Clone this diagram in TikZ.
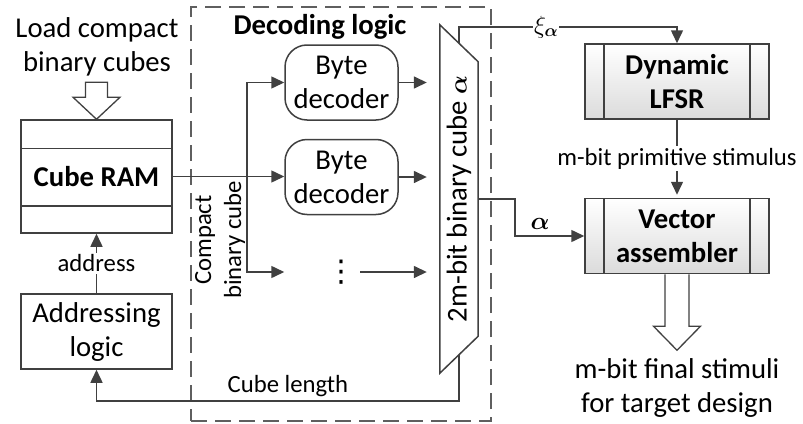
\documentclass[tikz,border=0pt]{standalone}
\usepackage{amsmath}
\usepackage{fontspec}
\setmainfont{Carlito}
\newfontfamily\symfont{DejaVu Sans}
\usepackage{tikz}
\usetikzlibrary{positioning, arrows.meta, calc}
\definecolor{lineGray}{RGB}{64, 64, 64}
\definecolor{dashGray}{RGB}{95, 95, 95}
\newcommand{\diagLarge}{\fontsize{28.7}{34}\selectfont}
\newcommand{\diagSmall}{\fontsize{24.7}{30}\selectfont}

\begin{document}
\begin{tikzpicture}[
                x=1pt, y=-1pt,
                bigtext/.style={font=\diagLarge, align=center, inner sep=0pt},
                smalltext/.style={font=\diagSmall, align=center},
                block/.style={rectangle, draw=lineGray, line width=1.5pt, minimum width=151, minimum height=75, font=\diagLarge, align=center, inner sep=0pt},
                decoder/.style={block, minimum width=113, rounded corners=22pt},
                procbox/.style={block, minimum width=184, top color=white, bottom color=black!14, font=\diagLarge\bfseries,
                  path picture={
                    \draw[lineGray, line width=1.5pt]
                      ([xshift=19pt]path picture bounding box.north west) -- ([xshift=19pt]path picture bounding box.south west)
                      ([xshift=-19pt]path picture bounding box.north east) -- ([xshift=-19pt]path picture bounding box.south east);
                  }},
                dashbox/.style={rectangle, draw=dashGray, line width=1.5pt, dash pattern=on 16pt off 8pt},
                hollow/.style={draw=lineGray, fill=white, line width=1.3pt, line join=miter},
                arrow/.style={-{Triangle[length=13pt, width=12pt]}, draw=lineGray, line width=1.5pt}
            ]
                \useasboundingbox (0,0) rectangle (803,423);

                % --- DECODING LOGIC (MIDDLE) ---
                \node[dashbox, minimum width=300, minimum height=414] (dec_box) at (341,214) {};
                \node[bigtext, font=\diagLarge\bfseries] (dec_title) at (320,27) {Decoding logic};
                \node[decoder] (dec1) at (341.5,82.5) {Byte\\decoder};
                \node[decoder, below=18pt of dec1] (dec2) {Byte\\decoder};
                \node[minimum width=37, inner sep=0pt, font=\symfont\fontsize{30}{30}\selectfont] (dots) at (341.5,272) {⋮};
                \node[smalltext, rotate=90, inner sep=0pt] (cmp_txt) at (220,240) {Compact\\binary cube};

                % Multiplexer
                \node[minimum width=38, minimum height=348, inner sep=0pt] (mux) at (459,199) {};
                \draw[draw=lineGray, line width=1.5pt, line join=miter] (mux.north west) -- ($(mux.north east)+(0,37)$)
                  -- ($(mux.south east)+(0,-37)$) -- (mux.south west) -- cycle;
                \node[bigtext, rotate=90] (mux_txt) at (mux.center) {2m-bit binary cube $\boldsymbol{\alpha}$};

                % --- CUBE RAM (LEFT) ---
                \node[bigtext] (load_txt) at (97,47) {Load compact\\binary cubes};
                \node[block, minimum height=113, font=\diagLarge\bfseries] (ram) at (96.5,176.5) {Cube RAM};
                \draw[lineGray, line width=1.5pt] ($(ram.north west)+(0,29)$) -- ($(ram.north east)+(0,29)$);
                \draw[lineGray, line width=1.5pt] ($(ram.south west)+(0,-28)$) -- ($(ram.south east)+(0,-28)$);
                \node[block] (addr) at (96.5,331.5) {Addressing\\logic};
                \draw[hollow] (ram.north) -- ++(-23.5,-22) -- ++(12.5,0) -- ++(0,-15) -- ++(22,0) -- ++(0,15) -- ++(12.5,0) -- cycle;

                % --- LFSR AND ASSEMBLER (RIGHT) ---
                \node[procbox] (lfsr) at (677,81.5) {Dynamic\\LFSR};
                \node[procbox, below=78pt of lfsr] (vec) {Vector\\assembler};
                \node[bigtext] (out_txt) at (677,388) {m-bit final stimuli\\for target design};
                \draw[hollow] ($(vec.south)+(-12,0)$) -- ++(0,52) -- ++(-11.5,0) -- ++(23.5,24) -- ++(23.5,-24) -- ++(-11.5,0) -- ++(0,-52);

                % Arrows
                \coordinate (br) at (247,176.5);
                \draw[arrow] (ram.east) -- (ram.east -| dec2.west);
                \draw[arrow] (br) |- (dec1.west);
                \draw[arrow] (br) |- (dots -| dec2.west);
                \draw[arrow, shorten >=13pt] (dec1.east) -- (dec1.east -| mux.west);
                \draw[arrow, shorten >=13pt] (dec2.east) -- (dec2.east -| mux.west);
                \draw[arrow, shorten >=13pt] (dots.east) -- (dots.east -| mux.west);
                \draw[arrow] ($(mux.north)+(0,18.5)$) -- ++(0,-16.5) -| node[pos=0.2, fill=white, inner sep=1pt, font=\diagSmall] (xi_lbl) {$\xi_{\boldsymbol{\alpha}}$} (lfsr.north);
                \draw[arrow, shorten >=3pt] (lfsr) -- node[smalltext, fill=white, inner sep=2pt] (stim_lbl) {m-bit primitive stimulus} (vec);
                \draw[arrow] (mux.east) -- ++(37,0) |- node[pos=0.68, above=2pt, font=\diagLarge] (alpha_lbl) {$\boldsymbol{\alpha}$} (vec.west);
                \draw[arrow] ($(mux.south)+(0,-18.5)$) -- ++(0,46.5) -| node[pos=0.236, above, smalltext] (len_lbl) {Cube length} (addr.south);
                \draw[arrow] (addr) -- node[smalltext, fill=white, inner sep=2pt] (addr_lbl) {address} (ram);

\end{tikzpicture}
\end{document}
